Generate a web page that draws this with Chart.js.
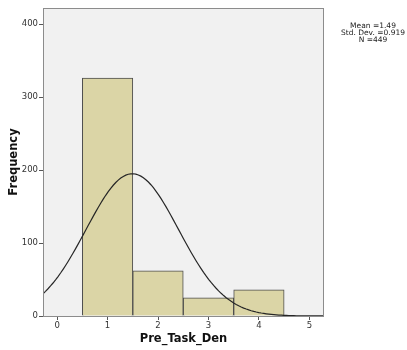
<!DOCTYPE html>
<html>
<head>
<meta charset="utf-8">
<script src="https://cdn.jsdelivr.net/npm/chart.js@4/dist/chart.umd.min.js"></script>
<style>
  html, body { margin: 0; padding: 0; background: #fff; }
  #wrap { width: 407px; height: 350px; }
</style>
</head>
<body>
<div id="wrap"><canvas id="hist" width="407" height="350"></canvas></div>
<script>
// Histogram bins (midpoints) and counts
const binCenters = [1, 2, 3, 4];
const binCounts = [326, 62, 25, 36];
const xTicks = [0, 1, 2, 3, 4, 5];
const yTicks = [0, 100, 200, 300, 400];

// Summary stats shown in the side box
const mean = 1.49;
const stdDev = 0.919;
const n = 449;
const binWidth = 1;

const xMin = -0.28;
const xMax = 5.29;

// Normal curve scaled to counts
const curve = [];
for (let i = 0; i <= 112; i++) {
    const x = xMin + (xMax - xMin) * i / 112;
    const z = (x - mean) / stdDev;
    const y = n * binWidth * Math.exp(-0.5 * z * z) / (stdDev * Math.sqrt(2 * Math.PI));
    curve.push({ x: x, y: y });
}

const plotBackground = {
    id: 'plotBackground',
    beforeDraw(chart) {
        const { ctx, chartArea: a } = chart;
        ctx.save();
        ctx.fillStyle = '#f1f1f1';
        ctx.fillRect(a.left, a.top, a.right - a.left, a.bottom - a.top);
        ctx.restore();
    },
    afterDraw(chart) {
        const { ctx, chartArea: a } = chart;
        ctx.save();
        ctx.strokeStyle = '#8c8c8c';
        ctx.lineWidth = 1;
        ctx.strokeRect(a.left + 0.5, a.top + 0.5, a.right - a.left - 1, a.bottom - a.top);
        // stats box text
        ctx.fillStyle = '#222';
        ctx.font = '7.5px "DejaVu Sans", sans-serif';
        ctx.textAlign = 'center';
        ctx.textBaseline = 'middle';
        ctx.fillText('Mean =' + mean, 373, 26);
        ctx.fillText('Std. Dev. =' + stdDev, 373, 33);
        ctx.fillText('N =' + n, 373, 40);
        ctx.restore();
    }
};

const tickFont = { family: '"DejaVu Sans", sans-serif', size: 8.5 };
const titleFont = { family: '"DejaVu Sans", sans-serif', size: 11.5, weight: 'bold' };

new Chart(document.getElementById('hist').getContext('2d'), {
    data: {
        datasets: [
            {
                type: 'line',
                data: curve,
                borderColor: '#262626',
                borderWidth: 1.2,
                pointRadius: 0,
                tension: 0,
                order: 0
            },
            {
                type: 'bar',
                data: binCenters.map((c, i) => ({ x: c, y: binCounts[i] })),
                backgroundColor: '#dbd5a6',
                borderColor: '#4d4d4d',
                borderWidth: 1,
                barPercentage: 1,
                categoryPercentage: 1,
                order: 1
            }
        ]
    },
    options: {
        responsive: false,
        animation: false,
        layout: { padding: { left: 3, top: 8, right: 83, bottom: 0 } },
        plugins: {
            legend: { display: false },
            tooltip: { enabled: false }
        },
        scales: {
            x: {
                type: 'linear',
                offset: false,
                min: xMin,
                max: xMax,
                afterBuildTicks: (s) => { s.ticks = xTicks.map(v => ({ value: v })); },
                afterFit: (s) => { s.height = 34; },
                grid: { drawOnChartArea: false, offset: false, tickLength: 4, color: '#555' },
                border: { display: false },
                ticks: { color: '#333', font: tickFont, padding: 1 },
                title: { display: true, text: 'Pre_Task_Den', color: '#111', font: titleFont, padding: { top: 4 } }
            },
            y: {
                min: 0,
                max: 422,
                afterBuildTicks: (s) => { s.ticks = yTicks.map(v => ({ value: v })); },
                afterFit: (s) => { s.width = 40; },
                grid: { drawOnChartArea: false, tickLength: 4, color: '#555' },
                border: { display: false },
                ticks: { color: '#333', font: tickFont, padding: 1 },
                title: { display: true, text: 'Frequency', color: '#111', font: titleFont, padding: { bottom: 0 } }
            }
        }
    },
    plugins: [plotBackground]
});
</script>
</body>
</html>
